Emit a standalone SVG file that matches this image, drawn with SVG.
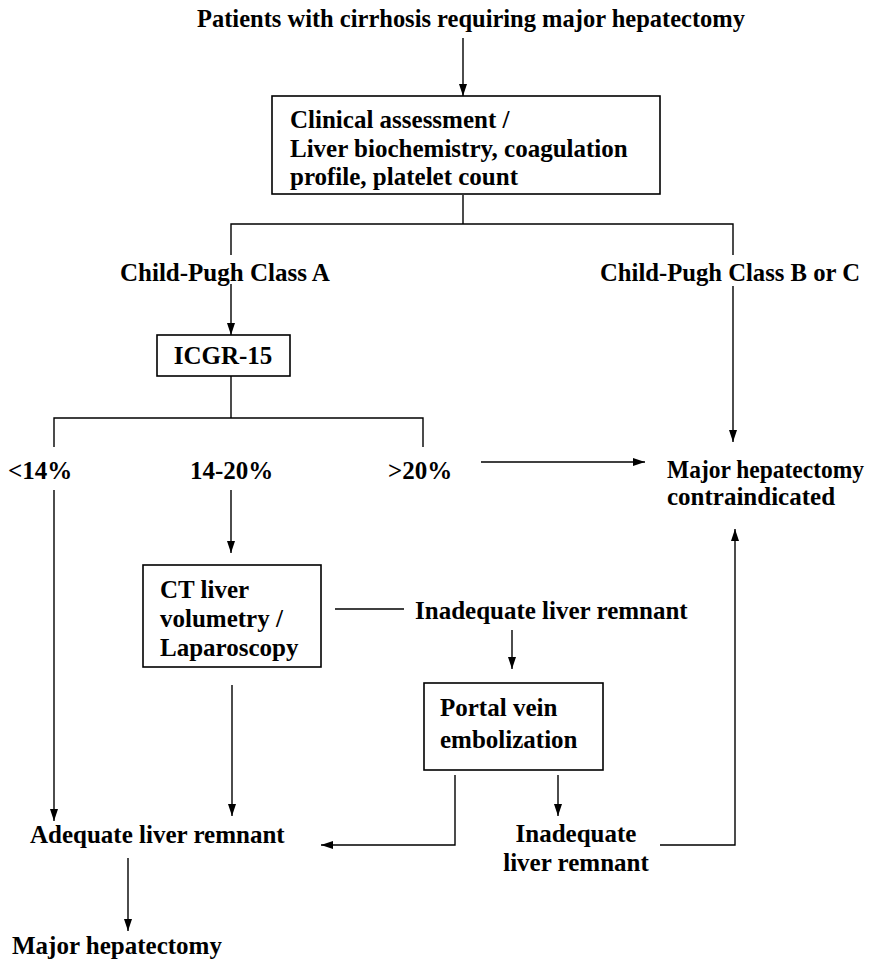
<svg xmlns="http://www.w3.org/2000/svg" width="875" height="964" viewBox="0 0 875 964">
<defs>
<marker id="ah" viewBox="0 0 12 10" refX="12" refY="5" markerWidth="12" markerHeight="10" markerUnits="userSpaceOnUse" orient="auto">
<path d="M0,1 L12,5 L0,9 Z" fill="#000"/>
</marker>
</defs>
<style>
text{font-family:"Liberation Serif","Times New Roman",serif;font-weight:bold;font-size:25px;fill:#000}
.box{fill:#fff;stroke:#000;stroke-width:1.6}
.ln{fill:none;stroke:#000;stroke-width:1.4}
.ar{fill:none;stroke:#000;stroke-width:1.4;marker-end:url(#ah)}
</style>
<rect width="875" height="964" fill="#fff"/>
<g id="connectors">
<path class="ar" d="M463,38 V96"/>
<path class="ln" d="M463,195 V224 M231,255 V224 H733 V255"/>
<path class="ar" d="M231,284 V335"/>
<path class="ar" d="M733,286 V442"/>
<path class="ln" d="M231,376 V418 M54,447 V418 H423 V447"/>
<path class="ar" d="M481,462 H645"/>
<path class="ar" d="M54,490 V821"/>
<path class="ar" d="M231,490 V553"/>
<path class="ln" d="M335,609 H404"/>
<path class="ar" d="M512,630 V669"/>
<path class="ar" d="M232,685 V816"/>
<path class="ar" d="M455,775 V845 H321"/>
<path class="ar" d="M558,775 V816"/>
<path class="ar" d="M660,845 H735 V529"/>
<path class="ar" d="M128,858 V931"/>
</g>
<g id="n-title"><text x="197" y="27" textLength="548" lengthAdjust="spacingAndGlyphs">Patients with cirrhosis requiring major hepatectomy</text></g>
<g id="n-clinical">
<rect class="box" x="272" y="96" width="388" height="98"/>
<text x="290" y="128">Clinical assessment /</text>
<text x="290" y="157">Liver biochemistry, coagulation</text>
<text x="290" y="185">profile, platelet count</text>
</g>
<g id="n-cpa"><text x="120" y="281">Child-Pugh Class A</text></g>
<g id="n-cpbc"><text x="600" y="281" textLength="260" lengthAdjust="spacingAndGlyphs">Child-Pugh Class B or C</text></g>
<g id="n-icgr">
<rect class="box" x="157" y="335" width="133" height="41"/>
<text x="223" y="364" text-anchor="middle">ICGR-15</text>
</g>
<g id="n-lt14"><text x="8" y="479">&lt;14%</text></g>
<g id="n-1420"><text x="190" y="479">14-20%</text></g>
<g id="n-gt20"><text x="388" y="479">&gt;20%</text></g>
<g id="n-contra">
<text x="667" y="478" textLength="197" lengthAdjust="spacingAndGlyphs">Major hepatectomy</text>
<text x="667" y="505">contraindicated</text>
</g>
<g id="n-ct">
<rect class="box" x="143" y="565" width="178" height="102"/>
<text x="160" y="598">CT liver</text>
<text x="160" y="627">volumetry /</text>
<text x="160" y="656">Laparoscopy</text>
</g>
<g id="n-inad1"><text x="415" y="619">Inadequate liver remnant</text></g>
<g id="n-pve">
<rect class="box" x="424" y="683" width="179" height="87"/>
<text x="440" y="716">Portal vein</text>
<text x="440" y="748">embolization</text>
</g>
<g id="n-adeq"><text x="30" y="843">Adequate liver remnant</text></g>
<g id="n-inad2">
<text x="576" y="842" text-anchor="middle">Inadequate</text>
<text x="576" y="871" text-anchor="middle">liver remnant</text>
</g>
<g id="n-major"><text x="12" y="954">Major hepatectomy</text></g>
</svg>
